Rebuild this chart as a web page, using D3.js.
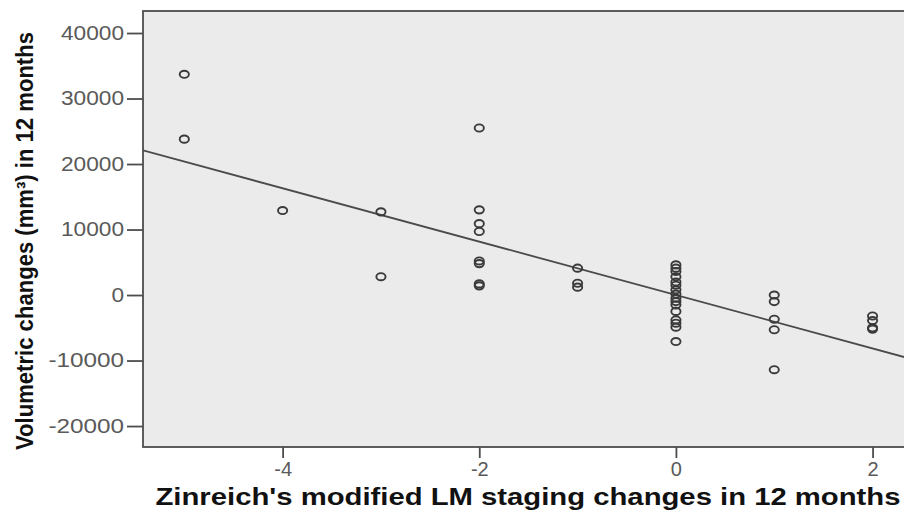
<!DOCTYPE html>
<html>
<head>
<meta charset="utf-8">
<script src="https://cdn.jsdelivr.net/npm/d3@7"></script>
<style>
  html, body { margin: 0; padding: 0; background: #ffffff; }
  svg { display: block; }
</style>
</head>
<body>
<svg id="chart" width="904" height="513"></svg>
<script>
// Change in LM stage (x) against volumetric change in mm³ (y), one entry per patient
const stageChange = [
  -5, -5,
  -4,
  -3, -3,
  -2, -2, -2, -2, -2, -2, -2, -2,
  -1, -1, -1,
  0, 0, 0, 0, 0, 0, 0, 0, 0, 0, 0, 0, 0, 0, 0, 0,
  1, 1, 1, 1, 1,
  2, 2, 2, 2
];
const volumeChange = [
  33700, 23800,
  12900,
  12700, 2800,
  25500, 13000, 10900, 9700, 5200, 4800, 1700, 1400,
  4100, 1800, 1200,
  4600, 4100, 3600, 2800, 2000, 1500, 800, 150, -500, -1000, -1500, -2500, -3800, -4300, -4900, -7100,
  0, -1000, -3700, -5300, -11400,
  -3200, -3900, -5000, -5200
];

// Fitted linear trend: volume = intercept + slope * stage
const fitIntercept = 0;
const fitSlope = -4075;

const xTicks = [-4, -2, 0, 2];
const yTicks = [-20000, -10000, 0, 10000, 20000, 30000, 40000];

const xTitle = "Zinreich's modified LM staging changes in 12 months";
const yTitle = "Volumetric changes (mm³) in 12 months";

const svg = d3.select("#chart");
const panel = { left: 143, top: 11, right: 906, bottom: 447 };

const x = d3.scaleLinear().domain([-5.42, 2.34]).range([panel.left, panel.right]);
const y = d3.scaleLinear().domain([-23200, 43360]).range([panel.bottom, panel.top]);

// plot panel
svg.append("rect")
  .attr("x", panel.left).attr("y", panel.top)
  .attr("width", panel.right - panel.left).attr("height", panel.bottom - panel.top)
  .attr("fill", "#ebebeb")
  .attr("stroke", "#4d4d4d").attr("stroke-width", 1.8);

const tickFont = "'Liberation Sans', Arial, sans-serif";
const plain = d => String(d);   // ASCII hyphen for negatives

// y axis
const yAxis = svg.append("g")
  .attr("transform", `translate(${panel.left},0)`)
  .call(d3.axisLeft(y).tickValues(yTicks).tickSize(16).tickPadding(3).tickFormat(plain));
yAxis.select(".domain").remove();
yAxis.selectAll(".tick line").attr("stroke", "#4d4d4d").attr("stroke-width", 1.8);
yAxis.selectAll(".tick text")
  .attr("fill", "#5a5a5a")
  .style("font-family", tickFont)
  .style("font-size", "20px")
  .attr("textLength", d => String(d).length * 12.6)
  .attr("lengthAdjust", "spacingAndGlyphs");

// x axis
const xAxis = svg.append("g")
  .attr("transform", `translate(0,${panel.bottom})`)
  .call(d3.axisBottom(x).tickValues(xTicks).tickSize(11).tickPadding(4).tickFormat(plain));
xAxis.select(".domain").remove();
xAxis.selectAll(".tick line").attr("stroke", "#4d4d4d").attr("stroke-width", 1.8);
xAxis.selectAll(".tick text")
  .attr("fill", "#5a5a5a")
  .style("font-family", tickFont)
  .style("font-size", "20px");

// fitted line across the panel
const [x0, x1] = x.domain();
svg.append("clipPath").attr("id", "panel-clip")
  .append("rect")
  .attr("x", panel.left).attr("y", panel.top)
  .attr("width", panel.right - panel.left).attr("height", panel.bottom - panel.top);
svg.append("line")
  .attr("clip-path", "url(#panel-clip)")
  .attr("x1", x(x0)).attr("y1", y(fitIntercept + fitSlope * x0))
  .attr("x2", x(x1)).attr("y2", y(fitIntercept + fitSlope * x1))
  .attr("stroke", "#4a4a4a").attr("stroke-width", 1.8);

// observations
const points = stageChange.map((s, i) => ({ s, v: volumeChange[i] }));
svg.append("g").selectAll("ellipse")
  .data(points)
  .join("ellipse")
  .attr("cx", d => x(d.s))
  .attr("cy", d => y(d.v))
  .attr("rx", 4.6).attr("ry", 3.6)
  .attr("fill", "none")
  .attr("stroke", "#3a3a3a")
  .attr("stroke-width", 1.9);

// axis titles
svg.append("text")
  .attr("x", 528).attr("y", 505)
  .attr("text-anchor", "middle")
  .attr("textLength", 745).attr("lengthAdjust", "spacingAndGlyphs")
  .style("font-family", "'Liberation Sans', Arial, sans-serif")
  .style("font-weight", "bold").style("font-size", "23px")
  .attr("fill", "#111")
  .text(xTitle);

svg.append("text")
  .attr("transform", "translate(33,241) rotate(-90)")
  .attr("text-anchor", "middle")
  .attr("textLength", 418).attr("lengthAdjust", "spacingAndGlyphs")
  .style("font-family", "'Liberation Sans Narrow', 'Liberation Sans', Arial, sans-serif")
  .style("font-weight", "bold").style("font-size", "23px")
  .attr("fill", "#111")
  .text(yTitle);
</script>
</body>
</html>
